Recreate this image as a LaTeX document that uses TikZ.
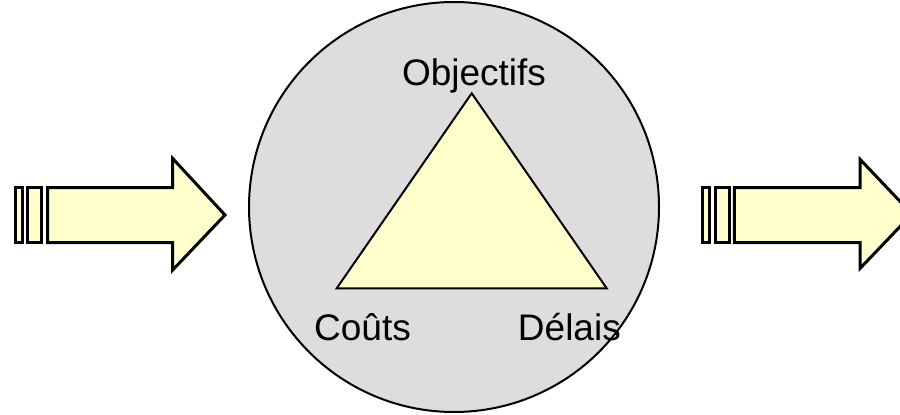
\documentclass[tikz,border=0pt]{standalone}
\usepackage{fontspec}
\setmainfont{Liberation Sans}
\definecolor{paleyellow}{HTML}{FFFFCC}
\definecolor{circgray}{HTML}{DDDDDD}
\tikzset{
  arrowpart/.style={draw=black, fill=paleyellow, line width=3pt, line join=miter},
  lbl/.style={font=\fontsize{37}{41}\selectfont, inner sep=0pt},
}
\begin{document}
\begin{tikzpicture}[x=1pt,y=-1pt]
\useasboundingbox (0,0) rectangle (900,415);
\clip (0,0) rectangle (900,415);
% central circle
\node[circle, draw=black, fill=circgray, line width=2pt, minimum size=410pt, inner sep=0pt] (circ) at (454,207) {};
% triangle
\coordinate (top) at (471.7,93.3);
\coordinate (bl) at (336.7,288.3);
\coordinate (br) at (606.7,288.3);
\draw[fill=paleyellow, line width=2pt, line join=miter] (top) -- (br) -- (bl) -- cycle;
% labels
\node[lbl, anchor=base] (obj) at (474,85) {Objectifs};
\node[lbl, anchor=base west] (couts) at (314,340) {Coûts};
\node[lbl, anchor=base east] (delais) at (621,340) {Délais};
% left arrow
\draw[arrowpart] (15,187.5) rectangle (22.7,242.5);
\draw[arrowpart] (27.7,187.5) rectangle (41.7,242.5);
\draw[arrowpart] (47.7,187.5) -- (172.7,187.5) -- (172.7,158.5) -- (225,215) -- (172.7,270) -- (172.7,242.5) -- (47.7,242.5) -- cycle;
% right arrow
\draw[arrowpart] (702.3,187.5) rectangle (709,242.5);
\draw[arrowpart] (715,187.5) rectangle (729.3,242.5);
\draw[arrowpart] (734.3,187.5) -- (860,187.5) -- (860,159.3) -- (912,214) -- (860,268.5) -- (860,242.5) -- (734.3,242.5) -- cycle;
\end{tikzpicture}
\end{document}
